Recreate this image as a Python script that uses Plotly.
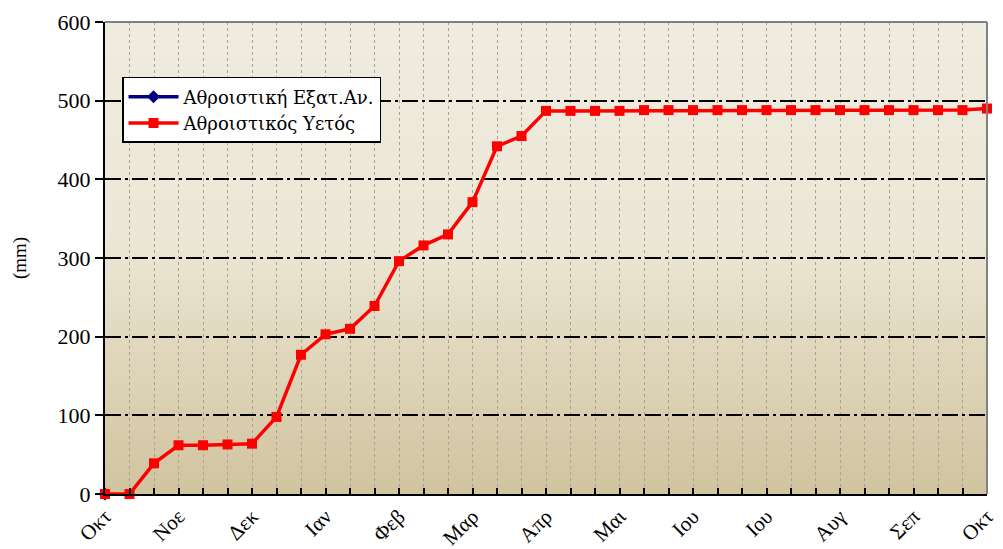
import plotly.graph_objects as go

x_idx = list(range(37))
rain_cum = [0, 0, 39, 62, 62, 63, 64, 98, 177, 203, 210, 239, 296, 316, 330, 371,
            442, 455, 487, 487, 487, 487, 488, 488, 488, 488, 488, 488, 488, 488,
            488, 488, 488, 488, 488, 488, 490]
evap_cum = [0] + [None] * 36
tick_pos = list(range(0, 37, 3))
tick_text = ["Οκτ", "Νοε", "Δεκ", "Ιαν", "Φεβ", "Μαρ", "Απρ", "Μαι", "Ιου", "Ιου", "Αυγ", "Σεπ", "Οκτ"]
y_ticks = [0, 100, 200, 300, 400, 500, 600]

FONT = "Liberation Serif"

fig = go.Figure()
fig.add_trace(go.Scatter(x=x_idx, y=evap_cum, mode="lines+markers", name="Αθροιστική Εξατ.Αν.",
                         line=dict(color="#000080", width=3.5), marker=dict(symbol="diamond", size=10, color="#000080"),
                         cliponaxis=False))
fig.add_trace(go.Scatter(x=x_idx, y=rain_cum, mode="lines+markers", name="Αθροιστικός Υετός",
                         line=dict(color="#FF0000", width=3.5), marker=dict(symbol="square", size=10, color="#FF0000"),
                         cliponaxis=False))

# gradient background
stops = [(0.0, (209, 195, 158)), (0.55, (236, 231, 214)), (1.0, (239, 236, 224))]
def col(t):
    for (a, ca), (b, cb) in zip(stops[:-1], stops[1:]):
        if a <= t <= b:
            f = (t - a) / (b - a)
            return "rgb(%d,%d,%d)" % tuple(round(ca[i] + (cb[i] - ca[i]) * f) for i in range(3))
    return "rgb(%d,%d,%d)" % stops[-1][1]
N = 60
shapes = []
for i in range(N):
    y0 = i / N
    y1 = (i + 1) / N
    shapes.append(dict(type="rect", xref="paper", yref="paper", x0=0, x1=1, y0=y0, y1=y1 + 0.002,
                       fillcolor=col((y0 + y1) / 2), line=dict(width=0), layer="below"))
shapes.append(dict(type="line", xref="paper", yref="paper", x0=0, x1=1, y0=1, y1=1,
                   line=dict(color="#808080", width=2), layer="above"))
shapes.append(dict(type="line", xref="paper", yref="paper", x0=1, x1=1, y0=0, y1=1,
                   line=dict(color="#808080", width=2), layer="above"))

fig.update_layout(
    width=995, height=541,
    margin=dict(l=97, r=16, t=14, b=55),
    paper_bgcolor="white", plot_bgcolor="rgba(0,0,0,0)",
    font=dict(family=FONT, color="black", size=22),
    shapes=shapes,
    showlegend=True,
    legend=dict(x=0.0193, y=0.8835, xanchor="left", yanchor="top",
                bgcolor="white", bordercolor="black", borderwidth=1.5,
                font=dict(family="DejaVu Serif", size=18), tracegroupgap=0, itemwidth=50),
    xaxis=dict(range=[0, 36], tickmode="array", tickvals=tick_pos, ticktext=tick_text,
               tickangle=-45, ticks="inside", ticklen=6, tickwidth=2, tickcolor="black",
               showline=True, linecolor="black", linewidth=2, showgrid=True,
               gridcolor="#A8A290", griddash="dot", gridwidth=1, zeroline=False,
               automargin=False, tickfont=dict(size=21),
               minor=dict(dtick=1, tick0=0, ticks="inside", ticklen=6, tickwidth=2, tickcolor="black",
                          showgrid=True, gridcolor="#A8A290", griddash="dot", gridwidth=1)),
    yaxis=dict(range=[0, 600], tickvals=y_ticks, ticks="outside", ticklen=8, tickwidth=1.5,
               tickcolor="black", showline=True, linecolor="black", linewidth=2,
               showgrid=True, gridcolor="black", griddash="16px,4px,3px,4px", gridwidth=1.5,
               zeroline=False, automargin=False, tickfont=dict(size=22),
               title=dict(text="(mm)", font=dict(size=19), standoff=26)),
)
fig.write_html("out.html")
